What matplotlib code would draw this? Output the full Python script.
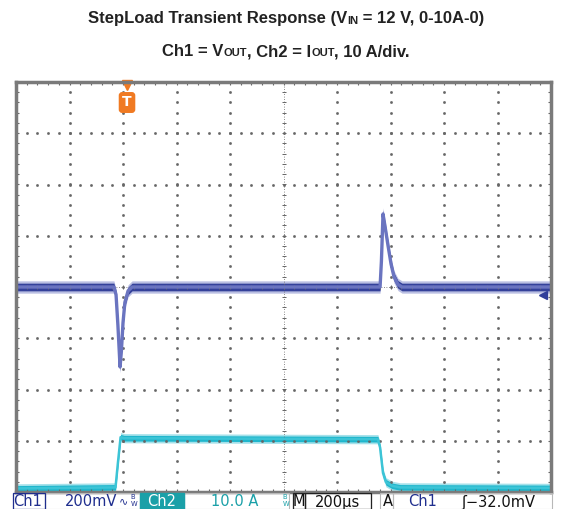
import numpy as np
import matplotlib.pyplot as plt
from matplotlib.offsetbox import TextArea, HPacker, AnchoredOffsetbox
from matplotlib.patches import Rectangle

# scope settings
t_div = 200          # us/div
ch1_scale = 200      # mV/div
ch2_scale = 10       # A/div
ch1_offset = 0.0     # div
ch2_offset = -3.93   # div
trig_time = 415      # us
trig_level = -32     # mV

# Ch1 = Vout deviation (mV) vs time (us)
ch1_t = [0, 366, 374, 381, 389, 394, 400, 407, 419, 434,
         1361, 1366, 1372, 1379, 1391, 1402, 1413, 1428, 1443, 2000]
ch1_v = [0, 0, -30, -150, -312, -250, -140, -60, -15, 0,
         0, 100, 285, 240, 160, 90, 40, 10, 0, 0]

# Ch2 = Iout (A) vs time (us)
ch2_t = [0, 372, 381, 391, 404, 1353, 1361, 1372, 1383, 1406, 1436, 2000]
ch2_i = [0, 0.2, 5, 10.0, 9.8, 9.6, 8, 3, 1.2, 0.5, 0.2, 0.1]

fig = plt.figure(figsize=(5.72, 5.09), dpi=100)
W, H = 572, 509
ax = fig.add_axes([16 / W, 17 / H, 535 / W, 410 / H])
ax.set_xlim(0, 10 * t_div)
ax.set_ylim(-4, 4)
ax.set_xticks([])
ax.set_yticks([])
for s in ax.spines.values():
    s.set_color('#7a7a7a')
    s.set_linewidth(2.5)

# graticule: dotted grid, denser centre lines, edge ticks
gc = '#666666'
fine_x = np.arange(0, 10.01, 0.2) * t_div
fine_y = np.arange(-4, 4.01, 0.2)
for k in range(1, 10):
    if k == 5:
        continue
    ax.plot([k * t_div] * len(fine_y), fine_y, ls='none', marker='s', ms=0.9, color=gc)
for k in range(-3, 4):
    if k == 0:
        continue
    ax.plot(fine_x, [k] * len(fine_x), ls='none', marker='s', ms=0.9, color=gc)
ax.axhline(0, color=gc, lw=0.6, ls=(0, (1, 2)))
ax.axvline(5 * t_div, color=gc, lw=0.6, ls=(0, (1, 2)))
ax.plot(fine_x, [0] * len(fine_x), ls='none', marker='|', ms=3.5, mew=0.7, color=gc)
ax.plot([5 * t_div] * len(fine_y), fine_y, ls='none', marker='_', ms=3.5, mew=0.7, color=gc)
for yy in (-4, 4):
    ax.plot(fine_x, [yy] * len(fine_x), ls='none', marker='|', ms=5, mew=0.8, color=gc)
for xx in (0, 10 * t_div):
    ax.plot([xx] * len(fine_y), fine_y, ls='none', marker='_', ms=5, mew=0.8, color=gc)

# traces: noise band drawn as vertical spread around the trace
y1 = np.array(ch1_v) / ch1_scale + ch1_offset
ax.fill_between(ch1_t, y1 - 0.12, y1 + 0.12, color='#8d95d0', alpha=0.6, lw=0)
ax.plot(ch1_t, y1, color='#6a74c0', lw=2.4)
ax.fill_between(ch1_t, y1 - 0.075, y1 + 0.075, color='#34419a', lw=0)

y2 = np.array(ch2_i) / ch2_scale + ch2_offset
ax.fill_between(ch2_t, y2 - 0.09, y2 + 0.09, color='#7fd5e2', alpha=0.7, lw=0)
ax.plot(ch2_t, y2, color='#3cc4d6', lw=1.8)
ax.fill_between(ch2_t, y2 - 0.055, y2 + 0.055, color='#1fb6cc', lw=0)

# trigger markers
ax.plot(trig_time, 3.95, marker='v', ms=7, color='#f07a22', clip_on=False)
ax.text(trig_time, 3.6, 'T', ha='center', va='center', color='white', fontsize=10,
        fontweight='bold', bbox=dict(boxstyle='round,pad=0.2', fc='#f07a22', ec='#f07a22'))
ax.plot(10 * t_div - 30, trig_level / ch1_scale + ch1_offset, marker='<', ms=6,
        color='#2f3d9a', clip_on=False)

# title with small-caps subscripts
font = ['Liberation Sans Narrow', 'Liberation Sans', 'DejaVu Sans']
big = dict(fontsize=12, fontweight='bold', family=font, color='#222222')
small = dict(fontsize=8, fontweight='bold', family=font, color='#222222')


def title_line(parts, y):
    boxes = [TextArea(txt, textprops=(small if sm else big)) for txt, sm in parts]
    pack = HPacker(children=boxes, align='baseline', pad=0, sep=0)
    anc = AnchoredOffsetbox(loc='center', child=pack, frameon=False,
                            bbox_to_anchor=(286 / W, 1 - y / H),
                            bbox_transform=fig.transFigure, borderpad=0, pad=0)
    fig.add_artist(anc)


title_line([('StepLoad Transient Response (V', False), ('IN', True),
            (' = 12 V, 0-10A-0)', False)], 19)
title_line([('Ch1 = V', False), ('OUT', True), (', Ch2 = I', False),
            ('OUT', True), (', 10 A/div.', False)], 52)

# status bar
sb = fig.add_axes([0, 0, 1, 17 / H])
sb.set_xlim(0, W)
sb.set_ylim(17, 0)
sb.axis('off')
blue = '#1f2e8e'
teal = '#1aa0a8'
cells = [(13, 32), (45, 95), (140, 44), (184, 105), (293, 12), (305, 66), (380, 13), (393, 159)]
for x0, w in cells:
    sb.add_patch(Rectangle((x0, 1), w, 16, fill=False, ec='#b8b8b8', lw=0.8))
sb.add_patch(Rectangle((13, 1), 32, 16, fill=False, ec=blue, lw=0.9))
sb.add_patch(Rectangle((140, 1), 44, 16, fc=teal, ec=teal))
sb.add_patch(Rectangle((293, 1), 12, 16, fill=False, ec='#222222', lw=0.9))
sb.add_patch(Rectangle((305, 1), 66, 16, fill=False, ec='#222222', lw=0.9))
fs = 10.5
sb.text(28, 10, 'Ch1', color=blue, fontsize=fs, ha='center', va='center')
sb.text(91, 10, '200mV', color=blue, fontsize=fs, ha='center', va='center')
sb.text(124, 9, '∿', color=blue, fontsize=8, ha='center', va='center')
sb.text(134, 9, r'${}^{\mathrm{B}}_{\mathrm{W}}$', color=blue, fontsize=7, ha='center', va='center')
sb.text(162, 10, 'Ch2', color='white', fontsize=fs, ha='center', va='center')
sb.text(235, 10, '10.0 A', color=teal, fontsize=fs, ha='center', va='center')
sb.text(286, 9, r'${}^{\mathrm{B}}_{\mathrm{W}}$', color=teal, fontsize=7, ha='center', va='center')
sb.text(299, 10, 'M', color='#111111', fontsize=fs, ha='center', va='center')
sb.text(338, 10, '200µs', color='#111111', fontsize=fs, ha='center', va='center')
sb.text(388, 10, 'A', color='#111111', fontsize=fs, ha='center', va='center')
sb.text(423, 10, 'Ch1', color=blue, fontsize=fs, ha='center', va='center')
sb.text(498, 10, 'ʃ−32.0mV', color='#111111', fontsize=fs, ha='center', va='center')

fig.savefig('out.png', dpi=100)
